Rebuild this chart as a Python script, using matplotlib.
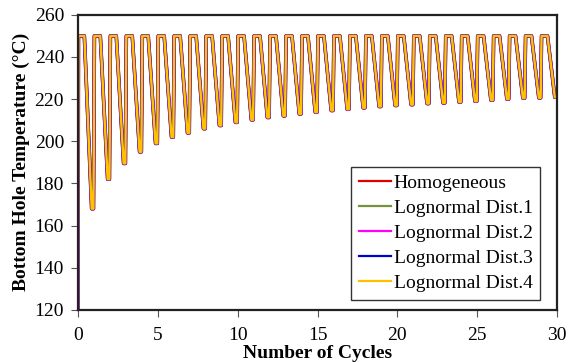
import numpy as np
import matplotlib
matplotlib.use("Agg")
from matplotlib import pyplot as plt

# minimum bottom hole temperature reached in each cycle
cycle_min = [168.0, 182.0, 189.5, 195.0, 199.0, 202.0, 204.0, 206.0, 207.5, 209.0,
             210.2, 211.3, 212.1, 213.0, 213.8, 214.6, 215.2, 215.9, 216.5, 217.0,
             217.4, 217.9, 218.2, 218.6, 219.0, 219.5, 220.0, 220.5, 220.6, 220.9]
t_start = 120.0
t_peak = 250.0

series = ["Homogeneous", "Lognormal Dist.1", "Lognormal Dist.2",
          "Lognormal Dist.3", "Lognormal Dist.4"]
colors = ["#e00000", "#76923c", "#ff00ff", "#0000d0", "#ffc000"]
widths = [2.6, 2.5, 2.4, 2.2, 1.8]


def cycle_curve(mins):
    # one cycle: fast heat-up, hold at peak, cool down, short hold at the minimum
    x = [0.0]
    y = [t_start]
    for k, m in enumerate(mins):
        x += [k + 0.03, k + 0.40, k + 0.86, k + 0.97]
        y += [t_peak, t_peak, m, m]
    x[-1] = len(mins)
    return np.array(x), np.array(y)


plt.rcParams['font.family'] = ['Liberation Serif', 'DejaVu Serif']
fig = plt.figure(figsize=(5.69, 3.62), dpi=100)
ax = fig.add_axes([0.137, 0.144, 0.842, 0.815])

x, y = cycle_curve(cycle_min)
for name, c, lw in zip(series, colors, widths):
    ax.plot(x, y, color=c, lw=lw, label=name, solid_joinstyle='round')

ax.set_xlim(0, 30)
ax.set_ylim(120, 260)
ax.set_xticks(np.arange(0, 31, 5))
ax.set_yticks(np.arange(120, 261, 20))
ax.tick_params(labelsize=14, direction='out', length=5, color='#555555')
ax.tick_params(axis='x', pad=7)
ax.tick_params(axis='y', pad=5)
for s in ax.spines.values():
    s.set_color('#222222')
    s.set_linewidth(1.6)

ax.set_xlabel("Number of Cycles", fontsize=14, fontweight='bold', labelpad=1)
ax.set_ylabel("Bottom Hole Temperature (\u00b0C)", fontsize=14, fontweight='bold', labelpad=3)

leg = ax.legend(loc='lower right', bbox_to_anchor=(0.965, 0.034), fontsize=14,
                frameon=True, fancybox=False, edgecolor='black', handlelength=1.65,
                borderpad=0.4, labelspacing=0.38, handletextpad=0.15, borderaxespad=0)
leg.get_frame().set_linewidth(1.0)
for h in leg.get_lines():
    h.set_linewidth(1.6)

fig.savefig("out.png", dpi=100)
